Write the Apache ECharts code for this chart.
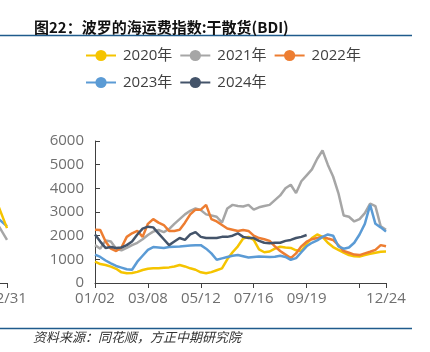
<!DOCTYPE html>
<html>
<head>
<meta charset="utf-8">
<script src="https://cdn.jsdelivr.net/npm/echarts@6/dist/echarts.min.js"></script>
<style>
  html, body { margin: 0; padding: 0; background: #fff; }
  #chart { width: 430px; height: 352px; }
</style>
</head>
<body>
<div id="chart"></div>
<script>
const dates = [
  '01/02','01/09','01/15','01/22','01/28','02/04','02/10','02/17','02/23','03/01',
  '03/08','03/14','03/21','03/27','04/03','04/09','04/16','04/22','04/29','05/05',
  '05/12','05/18','05/25','05/31','06/07','06/13','06/20','06/26','07/03','07/09',
  '07/16','07/22','07/29','08/04','08/11','08/17','08/24','08/30','09/06','09/12',
  '09/19','09/26','10/03','10/09','10/16','10/22','10/29','11/04','11/10','11/16',
  '11/22','11/28','12/04','12/10','12/17','12/24'
];

const bdi2020 = [
  900, 800, 760, 690, 600, 450, 410, 420, 470, 550,
  600, 620, 620, 640, 660, 700, 760, 700, 620, 560,
  450, 410, 460, 540, 620, 1000, 1300, 1550, 1880, 1950,
  1820, 1420, 1300, 1330, 1450, 1530, 1500, 1480, 1380, 1350,
  1650, 1900, 2050, 1950, 1700, 1520, 1400, 1280, 1180, 1130,
  1120, 1180, 1230, 1280, 1320, 1330
];
const bdi2021 = [
  1600, 1450, 1800, 1750, 1450, 1380, 1480, 1600, 1700, 1850,
  2030, 2170, 2240, 2150, 2280, 2500, 2700, 2900, 3050, 3150,
  3080, 2900, 2850, 2800, 2550, 3150, 3300, 3250, 3230, 3300,
  3100, 3200, 3250, 3300, 3500, 3700, 4000, 4150, 3800, 4300,
  4550, 4800, 5250, 5600, 5000, 4500, 3800, 2850, 2800, 2600,
  2700, 2950, 3350, 3250, 2400, 2250
];
const bdi2022 = [
  2250, 2240, 1750, 1450, 1350, 1500, 1950, 2100, 2200, 1950,
  2500, 2700, 2550, 2450, 2200, 2200, 2250, 2550, 2900, 3100,
  3100, 3300, 2700, 2600, 2450, 2300, 2250, 2200, 2240, 2200,
  2000, 1900, 1850, 1780, 1550, 1350, 1200, 1050, 1250, 1550,
  1750, 1850, 1900, 1950, 1880, 1820, 1600, 1350, 1280, 1200,
  1180, 1250, 1320, 1400, 1600, 1550
];
const bdi2023 = [
  1200, 1100, 950, 830, 720, 650, 580, 560, 900, 1150,
  1400, 1520, 1500, 1480, 1520, 1530, 1540, 1560, 1580, 1600,
  1600, 1450, 1250, 980, 1040, 1100, 1150, 1180, 1130, 1080,
  1100, 1120, 1110, 1100, 1110, 1150, 1100, 980, 1050, 1300,
  1550, 1700, 1800, 1950, 2050, 2000, 1550, 1450, 1500, 1700,
  2050, 2500, 3300, 2500, 2350, 2170
];
const bdi2024 = [
  2050, 1750, 1480, 1520, 1480, 1500, 1600, 1750, 2050, 2300,
  2380, 2350, 2100, 1850, 1600, 1750, 1900, 1820, 2050, 2150,
  1950, 1900, 1900, 1900, 1950, 1950, 2000, 2100, 1950, 1900,
  1900, 1780, 1700, 1680, 1700, 1700, 1780, 1820, 1900, 1950,
  2030
];

// sliver of the neighbouring chart that is cut off on the left edge
const leftDates = ['12/24','12/26','12/27','12/30','12/31'];
const left2020 = [3000, 3300, 3500, 3590, 2320];
const left2021 = [2300, 2500, 2600, 2660, 1820];
const left2023 = [2500, 2700, 2800, 2830, 2400];

const yTicks = [0, 6000, 1000];

const colors = {
  y2020: '#f5c400',
  y2021: '#a6a6a6',
  y2022: '#ed7d31',
  y2023: '#5b9bd5',
  y2024: '#44546a'
};

const textGray = '#6f6f6f';
const axisGray = '#404040';
const font = '"Open Sans", "Noto Sans CJK SC", sans-serif';

const mainTick = (idx) => idx % 10 === 0 || idx === dates.length - 1;
const mainLabel = (idx) => (idx % 10 === 0 && idx <= 40) || idx === dates.length - 1;

function lineSeries(name, data, color, xi) {
  return {
    name: name,
    type: 'line',
    data: data,
    xAxisIndex: xi,
    yAxisIndex: xi,
    symbol: 'circle',
    showSymbol: false,
    lineStyle: { width: 2.5, color: color },
    itemStyle: { color: color }
  };
}

const legendBase = {
  itemWidth: 30,
  itemHeight: 14,
  itemGap: 7,
  textStyle: { fontSize: 15, color: '#404040', fontFamily: font, padding: [0, 0, 0, 2] }
};

const chart = echarts.init(document.getElementById('chart'), null, { renderer: 'canvas' });

const option = {
  animation: false,
  title: {
    text: '图22：波罗的海运费指数:干散货(BDI)',
    left: 29,
    top: 15,
    textStyle: { fontSize: 15, fontWeight: 'bold', color: '#111', fontFamily: '"Noto Sans CJK SC", sans-serif' }
  },
  legend: [
    Object.assign({}, legendBase, { left: 80, top: 43, data: ['2020年', '2021年', '2022年'] }),
    Object.assign({}, legendBase, { left: 80, top: 70, data: ['2023年', '2024年'] })
  ],
  grid: [
    { left: 95, right: 44, top: 141, bottom: 69, outerBoundsMode: 'none' },
    { right: 423, width: 47, top: 141, bottom: 69, outerBoundsMode: 'none' }
  ],
  xAxis: [
    {
      type: 'category',
      gridIndex: 0,
      data: dates,
      boundaryGap: false,
      axisLine: { lineStyle: { color: axisGray, width: 1 } },
      axisTick: { show: true, interval: mainTick, length: 5, lineStyle: { color: axisGray } },
      axisLabel: { interval: mainLabel, color: textGray, fontSize: 15, fontFamily: font, margin: 8 }
    },
    {
      type: 'category',
      gridIndex: 1,
      data: leftDates,
      boundaryGap: false,
      axisLine: { lineStyle: { color: axisGray, width: 1 } },
      axisTick: { show: true, interval: (i) => i === leftDates.length - 1, length: 5, lineStyle: { color: axisGray } },
      axisLabel: { interval: (i) => i === leftDates.length - 1, color: textGray, fontSize: 15, fontFamily: font, margin: 8 }
    }
  ],
  yAxis: [
    {
      type: 'value',
      gridIndex: 0,
      min: yTicks[0],
      max: yTicks[1],
      interval: yTicks[2],
      axisLine: { show: true, lineStyle: { color: axisGray, width: 1 } },
      axisTick: { show: true, inside: true, length: 5, lineStyle: { color: axisGray } },
      splitLine: { show: false },
      axisLabel: { color: textGray, fontSize: 15, fontFamily: font, margin: 11, formatter: (v) => String(v) }
    },
    {
      type: 'value',
      gridIndex: 1,
      min: yTicks[0],
      max: yTicks[1],
      show: false
    }
  ],
  series: [
    lineSeries('2020年', bdi2020, colors.y2020, 0),
    lineSeries('2021年', bdi2021, colors.y2021, 0),
    lineSeries('2022年', bdi2022, colors.y2022, 0),
    lineSeries('2023年', bdi2023, colors.y2023, 0),
    lineSeries('2024年', bdi2024, colors.y2024, 0),
    lineSeries('left2021', left2021, colors.y2021, 1),
    lineSeries('left2023', left2023, colors.y2023, 1),
    lineSeries('left2020', left2020, colors.y2020, 1)
  ],
  graphic: [
    {
      type: 'line',
      shape: { x1: 0, y1: 35.5, x2: 412, y2: 35.5 },
      style: { stroke: '#1f5b8c', lineWidth: 1.5 }
    },
    {
      type: 'line',
      shape: { x1: 0, y1: 328.5, x2: 412, y2: 328.5 },
      style: { stroke: '#1f5b8c', lineWidth: 1.5 }
    },
    {
      type: 'text',
      left: 33,
      top: 331,
      style: {
        text: '资料来源：同花顺，方正中期研究院',
        font: 'italic 13px "Noto Sans CJK SC", sans-serif',
        fill: '#333'
      }
    }
  ]
};

chart.setOption(option);
</script>
</body>
</html>
